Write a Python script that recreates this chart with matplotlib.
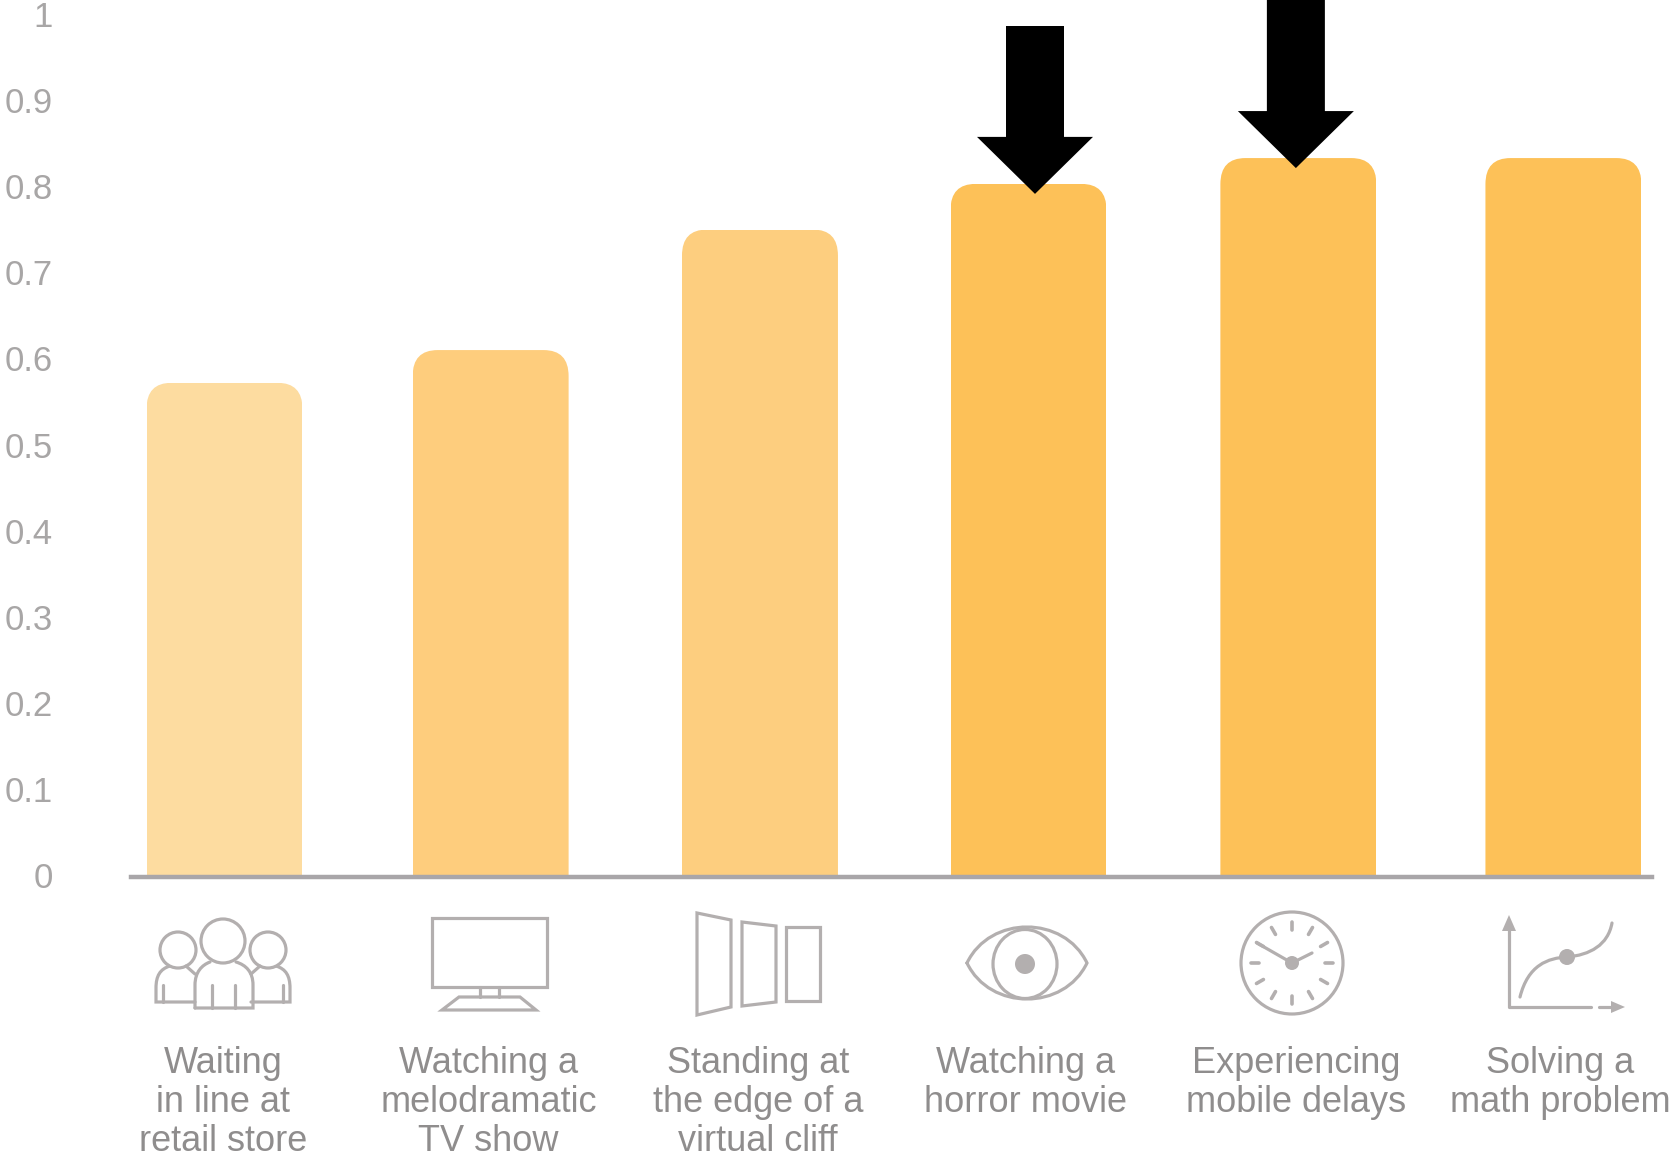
import numpy as np
import matplotlib
matplotlib.use("Agg")
import matplotlib.pyplot as plt
from matplotlib.patches import Circle, Ellipse, FancyBboxPatch, PathPatch, Polygon
from matplotlib.path import Path
from matplotlib.transforms import ScaledTranslation

plt.rcParams['font.family'] = ['Liberation Sans', 'DejaVu Sans']

# values
categories = ["Waiting\nin line at\nretail store",
              "Watching a\nmelodramatic\nTV show",
              "Standing at\nthe edge of a\nvirtual cliff",
              "Watching a\nhorror movie",
              "Experiencing\nmobile delays",
              "Solving a\nmath problem"]
values = [0.574, 0.612, 0.752, 0.805, 0.835, 0.835]
y_ticks = [0, 0.1, 0.2, 0.3, 0.4, 0.5, 0.6, 0.7, 0.8, 0.9, 1]
y_tick_labels = ["0", "0.1", "0.2", "0.3", "0.4", "0.5", "0.6", "0.7", "0.8", "0.9", "1"]
bar_colors = ["#fddca0", "#fecd7d", "#fdce7f", "#fdc158", "#fdc158", "#fdc158"]
highlighted = [3, 4]

W, H = 1672, 1157
ICON = "#b3afaf"
LW = 2.3

fig = plt.figure(figsize=(W / 100, H / 100), dpi=100)
ax_l, ax_r = 131, 1652
ax = fig.add_axes([ax_l / W, (H - 877) / H, (ax_r - ax_l) / W, 861 / H])
step = 268  # pixels between bars
ax.set_xlim((ax_l - 224.5) / step, (ax_r - 224.5) / step)
ax.set_ylim(0, 1)

# the bars in the picture are not quite evenly spaced
x = np.array([0, 0.993, 1.998, 3.0, 4.007, 4.996])
label_shift = np.array([-1.5, -2, -2, -3, -2, -3.5]) / step
bar_w = 0.582
bars = ax.bar(x, values, width=bar_w, color=bar_colors, linewidth=0)

# round the top corners: clip each bar with a rounded box running below the axis
rx = 25 / step
ry = 26 / 861
for b, xi, v in zip(bars, x, values):
    box = FancyBboxPatch((xi - bar_w / 2, -0.1), bar_w, v + 0.1,
                         boxstyle="round,pad=0,rounding_size=%f" % rx,
                         mutation_aspect=ry / rx, transform=ax.transData)
    b.set_clip_path(box)

for s in ["top", "right", "left"]:
    ax.spines[s].set_visible(False)
ax.spines["bottom"].set_color("#a9a6a9")
ax.spines["bottom"].set_linewidth(3.2)

ax.set_yticks(y_ticks)
ax.set_yticklabels(y_tick_labels)
ax.tick_params(axis="y", length=0, pad=56.5, labelsize=25, labelcolor="#a8a6a6")
# labels sit a touch above their tick positions
up = ScaledTranslation(0, 2 / 100, fig.dpi_scale_trans)
for lbl in ax.get_yticklabels():
    lbl.set_transform(lbl.get_transform() + up)
ax.set_xticks(x + label_shift)
ax.set_xticklabels(categories, linespacing=1.146)
ax.tick_params(axis="x", length=0, pad=122, labelsize=26, labelcolor="#8f8d8d")

# overlay in image pixels, for arrows and icons
ov = fig.add_axes([0, 0, 1, 1])
ov.set_xlim(0, W)
ov.set_ylim(H, 0)
ov.axis("off")
ov.patch.set_alpha(0)

# arrows pointing at the highlighted bars
arrow_dx = [6.5, -2.5]
arrow_top = [26, -2]
for i, dx, top in zip(highlighted, arrow_dx, arrow_top):
    px, py = ax.transData.transform((x[i], values[i]))
    tx = px + dx
    ty = H - py + 10
    base = ty - 57
    ov.add_patch(Polygon([(tx, ty), (tx - 58, base), (tx - 29, base), (tx - 29, top),
                          (tx + 29, top), (tx + 29, base), (tx + 58, base)],
                         closed=True, color="black", lw=0))


def line(pts, lw=LW):
    xs, ys = zip(*pts)
    ov.plot(xs, ys, color=ICON, lw=lw, solid_capstyle="round", solid_joinstyle="round")


def curve(verts, codes, lw=LW):
    ov.add_patch(PathPatch(Path(verts, codes), fc="none", ec=ICON, lw=lw, capstyle="round"))


def ring(cx, cy, rad):
    ov.add_patch(Circle((cx, cy), rad, fc="white", ec=ICON, lw=LW))


C4 = Path.CURVE4
M = Path.MOVETO
L = Path.LINETO

# people
for cx, sign in [(178, -1), (268, 1)]:
    curve([(cx + sign * 8, 966), (cx + sign * 18, 969), (cx + sign * 22, 976), (cx + sign * 22, 988),
           (cx + sign * 22, 1002), (cx - sign * 17, 1002)],
          [M, C4, C4, C4, L, L])
    line([(cx + sign * 15, 985), (cx + sign * 15, 1002)])
    line([(cx - sign * 8, 966), (cx - sign * 17, 974)])
    ring(cx, 950, 18)
curve([(195, 1008), (195, 985), (195, 972), (202, 965), (210, 962)], [M, L, C4, C4, C4])
curve([(236, 962), (246, 965), (253, 972), (253, 985), (253, 1008), (195, 1008)], [M, C4, C4, C4, L, L])
line([(212, 985), (212, 1008)])
line([(235, 985), (235, 1008)])
ring(223, 941, 22)

# screen
ov.add_patch(plt.Rectangle((432, 918), 115, 69, fc="none", ec=ICON, lw=LW))
line([(480, 987), (480, 997)])
line([(499, 987), (499, 997)])
ov.add_patch(Polygon([(459, 997), (520, 997), (536, 1010), (442, 1010)], closed=True, fc="none", ec=ICON, lw=LW))

# cliff panels
ov.add_patch(Polygon([(697, 913), (731, 920), (731, 1007), (697, 1015)], closed=True, fc="none", ec=ICON, lw=LW))
ov.add_patch(Polygon([(742, 922), (776, 926), (776, 1002), (742, 1006)], closed=True, fc="none", ec=ICON, lw=LW))
ov.add_patch(plt.Rectangle((786, 927), 34, 74, fc="none", ec=ICON, lw=LW))

# eye
curve([(967, 963), (990, 915), (1064, 915), (1087, 963), (1064, 1011), (990, 1011), (967, 963)],
      [M, C4, C4, C4, C4, C4, C4])
ov.add_patch(Ellipse((1025, 964), 64, 69, fc="none", ec=ICON, lw=LW))
ov.add_patch(Circle((1025, 964), 10, fc=ICON, lw=0))

# clock
ov.add_patch(Circle((1292, 963), 51, fc="none", ec=ICON, lw=LW))
for a in np.arange(12) * np.pi / 6:
    line([(1292 + 33 * np.sin(a), 963 - 33 * np.cos(a)),
          (1292 + 41 * np.sin(a), 963 - 41 * np.cos(a))], lw=2.6)
line([(1292, 963), (1257, 943)])
line([(1292, 963), (1312, 953)])
ov.add_patch(Circle((1292, 963), 7, fc=ICON, lw=0))

# graph
line([(1509, 928), (1509, 1007), (1591, 1007)])
line([(1599, 1007), (1614, 1007)])
ov.add_patch(Polygon([(1509, 915), (1502, 931), (1516, 931)], closed=True, fc=ICON, lw=0))
ov.add_patch(Polygon([(1625, 1007), (1611, 1001), (1611, 1013)], closed=True, fc=ICON, lw=0))
curve([(1520, 997), (1528, 965), (1548, 958), (1567, 957), (1590, 955), (1608, 945), (1612, 923)],
      [M, C4, C4, C4, C4, C4, C4])
ov.add_patch(Circle((1567, 957), 8, fc=ICON, lw=0))

fig.savefig("out.png", dpi=100)
